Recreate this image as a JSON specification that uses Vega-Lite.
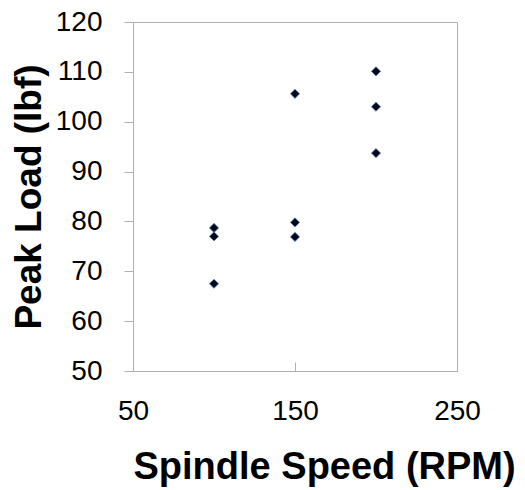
{
  "$schema": "https://vega.github.io/schema/vega-lite/v6.json",
  "autosize": "none",
  "width": 324,
  "height": 349,
  "padding": {"left": 133, "top": 22, "right": 68, "bottom": 119},
  "background": "white",
  "config": {
    "view": {"stroke": "#b0b0b0", "strokeWidth": 1},
    "font": "Liberation Sans"
  },
  "data": {
    "values": [
      {"speed": 100, "load": 78.7},
      {"speed": 100, "load": 77.0},
      {"speed": 100, "load": 67.5},
      {"speed": 150, "load": 105.6},
      {"speed": 150, "load": 79.8},
      {"speed": 150, "load": 76.9},
      {"speed": 200, "load": 110.1},
      {"speed": 200, "load": 103.0},
      {"speed": 200, "load": 93.7}
    ]
  },
  "mark": {"type": "point", "shape": "diamond", "filled": true, "size": 85, "fill": "#050515", "stroke": "#4f86c6", "strokeWidth": 0.8, "opacity": 1},
  "encoding": {
    "x": {
      "field": "speed", "type": "quantitative",
      "scale": {"domain": [50, 250], "nice": false, "zero": false},
      "axis": {
        "values": [50, 150, 250],
        "title": "Spindle Speed (RPM)",
        "titleFont": "Liberation Sans", "titleFontSize": 38, "titleFontWeight": "bold", "titleColor": "#000",
        "titleAnchor": "start", "titleX": 0, "titlePadding": 23,
        "labelFont": "Liberation Sans", "labelFontSize": 28, "labelColor": "#000", "labelPadding": 35, "labelFlush": false,
        "tickSize": -9, "tickColor": "#b0b0b0", "domainColor": "#b0b0b0", "grid": false
      }
    },
    "y": {
      "field": "load", "type": "quantitative",
      "scale": {"domain": [50, 120], "nice": false, "zero": false},
      "axis": {
        "values": [50, 60, 70, 80, 90, 100, 110, 120],
        "title": "Peak Load (lbf)",
        "titleFont": "Liberation Sans", "titleFontSize": 37, "titleFontWeight": "bold", "titleColor": "#000",
        "titlePadding": 7,
        "labelFont": "Liberation Sans", "labelFontSize": 28, "labelColor": "#000", "labelPadding": 22, "labelFlush": false,
        "tickSize": 9, "tickColor": "#b0b0b0", "domainColor": "#b0b0b0", "grid": false
      }
    }
  }
}
